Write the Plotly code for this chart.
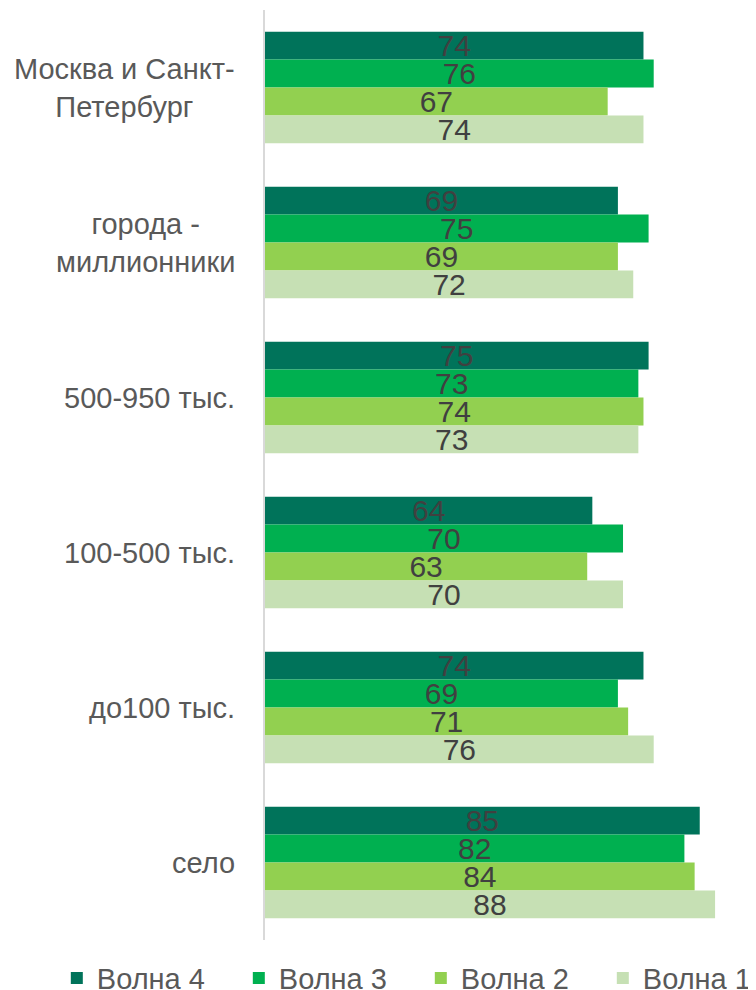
import plotly.graph_objects as go

categories = ["Москва и Санкт-<br>Петербург", "города -<br>миллионники", "500-950 тыс.",
              "100-500 тыс.", "до100 тыс.", "село"]
wave4 = [74, 69, 75, 64, 74, 85]
wave3 = [76, 75, 73, 70, 69, 82]
wave2 = [67, 69, 74, 63, 71, 84]
wave1 = [74, 72, 73, 70, 76, 88]
series_names = ["Волна 4", "Волна 3", "Волна 2", "Волна 1"]

colors = ["#00735A", "#00B050", "#92D050", "#C6E0B4"]
FONT = "Liberation Sans, Arial, sans-serif"

fig = go.Figure()

for name, vals, color in zip(series_names, [wave4, wave3, wave2, wave1], colors):
    fig.add_trace(go.Bar(
        y=categories, x=vals, orientation="h", name=name,
        marker=dict(color=color, line=dict(width=0)),
        text=[str(v) for v in vals],
        textposition="inside", insidetextanchor="middle",
        textangle=0, constraintext="none",
        textfont=dict(family=FONT, size=30, color="#404040"),
    ))

# category labels, centered multi-line text left of the axis
for c in categories:
    fig.add_annotation(
        x=-28 / 491, xref="paper", y=c, yref="y",
        text=c, showarrow=False, xanchor="right", align="center",
        font=dict(family=FONT, size=29, color="#595959"),
    )

# page body has an 8px margin, so the figure is 8px smaller than the window
fig.update_layout(
    width=748, height=982,
    barmode="group", bargap=0.28, bargroupgap=0,
    plot_bgcolor="white", paper_bgcolor="white",
    margin=dict(l=257, r=0, t=2, b=50, autoexpand=False),
    showlegend=True,
    # legend left of and below the plot area so it may use the full width
    legend=dict(
        orientation="h", xref="paper", yref="paper",
        x=-0.424, y=-0.041, xanchor="left", yanchor="middle",
        font=dict(family=FONT, size=29, color="#595959"),
        itemwidth=30, entrywidth=137, tracegroupgap=0,
    ),
    xaxis=dict(range=[0, 96], showgrid=False, zeroline=False, showticklabels=False),
    yaxis=dict(autorange="reversed", showticklabels=False, showline=True,
               linecolor="#D9D9D9", linewidth=2, showgrid=False),
)

fig.write_html("out.html")
